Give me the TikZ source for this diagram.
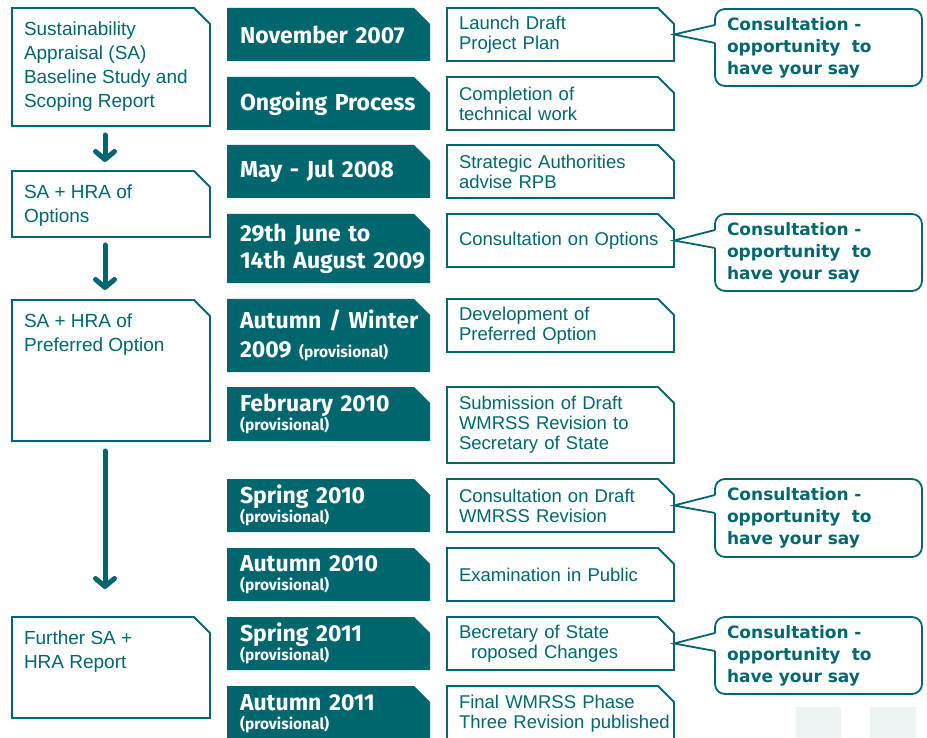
\documentclass[tikz,border=0pt]{standalone}
\usepackage{fontspec}
\setmainfont{Liberation Sans}
\newfontfamily\datefont{Fira Sans}
\newfontfamily\sayfont{DejaVu Sans}
\usetikzlibrary{arrows.meta,backgrounds}
\definecolor{wmteal}{RGB}{0,102,110}
\definecolor{ghost}{RGB}{238,244,244}
\newcommand{\provfont}{\fontsize{15.5}{16}\selectfont}
\newcommand{\leftpar}[2]{\parbox[c][#1][t]{174pt}{\rule{0pt}{27.5pt}#2}}

\begin{document}
\begin{tikzpicture}[x=1pt, y=-1pt,
		every node/.style={inner ysep=0pt, outer sep=0pt, execute at begin node={\hyphenpenalty=10000\exhyphenpenalty=10000}},
		leftbox/.style={anchor=north west, inner xsep=12pt, text=wmteal, font=\fontsize{19}{24}\selectfont},
		datebox/.style={anchor=north west, text width=190pt, inner xsep=13pt, align=left, text=white, font=\datefont\bfseries\fontsize{23}{27}\selectfont},
		stagebox/.style={anchor=north west, text width=215pt, inner xsep=12pt, align=left, text=wmteal, font=\fontsize{18.5}{20}\selectfont},
		saybox/.style={anchor=north west, draw=wmteal, line width=1.8pt, rounded corners=10pt, minimum width=207pt, minimum height=77pt, text width=183pt, inner xsep=12pt, align=left, text=wmteal, font=\sayfont\bfseries\fontsize{17}{22}\selectfont},
		edge/.style={draw=wmteal, line width=1.8pt},
		flow/.style={wmteal, line width=5pt, line cap=round, -{Straight Barb[length=8pt, width=19pt, round]}}]
	\useasboundingbox (0,0) rectangle (927,738);

	% appraisal column
	\node[leftbox] (sa1) at (12,8) {\leftpar{118pt}{Sustainability\\Appraisal (SA)\\Baseline Study and\\Scoping Report}};
	\node[leftbox] (sa2) at (12,171) {\leftpar{66pt}{SA + HRA of\\Options}};
	\node[leftbox] (sa3) at (12,300) {\leftpar{141pt}{SA + HRA of\\Preferred Option}};
	\node[leftbox] (sa4) at (12,617) {\leftpar{101pt}{Further SA +\\HRA Report}};
	\draw[flow] ([xshift=-6pt,yshift=-9pt]sa1.south) -- ([xshift=-6pt,yshift=9pt]sa2.north);
	\draw[flow] ([xshift=-6pt,yshift=-8pt]sa2.south) -- ([xshift=-6pt,yshift=10pt]sa3.north);
	\draw[flow] ([xshift=-6pt,yshift=-10pt]sa3.south) -- ([xshift=-6pt,yshift=28pt]sa4.north);

	% dates
	\node[datebox, minimum height=53pt] (d1) at (227,8) {November 2007};
	\node[datebox, minimum height=53pt] (d2) at (227,77) {Ongoing Process};
	\node[datebox, minimum height=53pt] (d3) at (227,145) {May - Jul 2008};
	\node[datebox, minimum height=69pt] (d4) at (227,214) {29th June to\\14th August 2009};
	\node[datebox, minimum height=73pt] (d5) at (227,299) {Autumn / Winter\\[2pt]2009 {\provfont (provisional)}};
	\node[datebox, minimum height=54pt] (d6) at (227,387) {February 2010\\[-8pt]{\provfont (provisional)}};
	\node[datebox, minimum height=53pt] (d7) at (227,479) {Spring 2010\\[-8pt]{\provfont (provisional)}};
	\node[datebox, minimum height=53pt] (d8) at (227,548) {Autumn 2010\\[-8pt]{\provfont (provisional)}};
	\node[datebox, minimum height=53pt] (d9) at (227,617) {Spring 2011\\[-8pt]{\provfont (provisional)}};
	\node[datebox, minimum height=56pt] (d10) at (227,686) {Autumn 2011\\[-8pt]{\provfont (provisional)}};

	% stages
	\node[stagebox, minimum height=53pt] (m1) at (447,8) {Launch Draft\\Project Plan};
	\node[stagebox, minimum height=53pt] (m2) at (447,77) {Completion of\\technical work};
	\node[stagebox, minimum height=53pt] (m3) at (447,145) {Strategic Authorities\\advise RPB};
	\node[stagebox, minimum height=53pt] (m4) at (447,214) {Consultation on Options};
	\node[stagebox, minimum height=53pt] (m5) at (447,299) {Development of\\Preferred Option};
	\node[stagebox, minimum height=76pt] (m6) at (447,387) {Submission of Draft\\WMRSS Revision to\\Secretary of State};
	\node[stagebox, minimum height=53pt] (m7) at (447,479) {Consultation on Draft\\WMRSS Revision};
	\node[stagebox, minimum height=53pt] (m8) at (447,548) {Examination in Public};
	\node[stagebox, minimum height=53pt] (m9) at (447,617) {Becretary of State\\\hspace*{12pt}roposed Changes};
	\node[stagebox, minimum height=56pt] (m10) at (447,686) {Final WMRSS Phase\\Three Revision published};

	% consultation callouts
	\node[saybox] (c1) at (715,9) {Consultation -\\opportunity\ \ to\\have your say};
	\node[saybox] (c2) at (715,214) {Consultation -\\opportunity\ \ to\\have your say};
	\node[saybox, minimum height=78pt] (c3) at (715,479) {Consultation -\\opportunity\ \ to\\have your say};
	\node[saybox] (c4) at (715,617) {Consultation -\\opportunity\ \ to\\have your say};
	\foreach \m/\c in {m1/c1, m4/c2, m7/c3, m9/c4} {
		\fill[white] ([xshift=1.5pt,yshift=-16pt]\c.north west) -- ([xshift=-12pt]\m.east) -- ([xshift=1.5pt,yshift=-34pt]\c.north west) -- cycle;
		\draw[edge] ([yshift=-16pt]\c.north west) -- ([xshift=-12pt]\m.east) -- ([yshift=-34pt]\c.north west);
	}

	\fill[ghost] (796,707) rectangle (841,738);
	\fill[ghost] (870,707) rectangle (916,738);

	\begin{scope}[on background layer]
		\clip (0,0) rectangle (927,738);
		\foreach \i in {1,...,10}
			\fill[wmteal] (d\i.south west) -- (d\i.north west) -- ([xshift=-29pt]d\i.north east) -- ([xshift=-13pt,yshift=-16pt]d\i.north east) -- ([xshift=-13pt]d\i.south east) -- cycle;
		\foreach \i in {1,...,10}
			\draw[edge] (m\i.south west) -- (m\i.north west) -- ([xshift=-28pt]m\i.north east) -- ([xshift=-12pt,yshift=-16pt]m\i.north east) -- ([xshift=-12pt]m\i.south east) -- cycle;
		\foreach \n in {sa1,sa2,sa3,sa4}
			\draw[edge] (\n.south west) -- (\n.north west) -- ([xshift=-16pt]\n.north east) -- ([yshift=-16pt]\n.north east) -- (\n.south east) -- cycle;
	\end{scope}
\end{tikzpicture}
\end{document}
